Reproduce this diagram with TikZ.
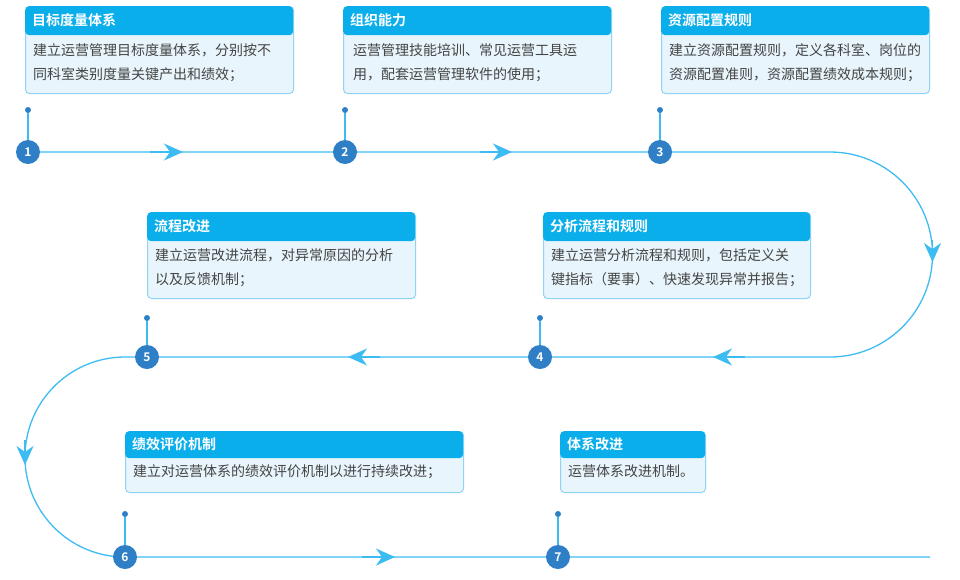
\documentclass[tikz,border=0pt]{standalone}
\usepackage{fontspec}
\setmainfont{Noto Sans CJK SC}[BoldFont={Noto Sans CJK SC Bold}]
\usetikzlibrary{arrows.meta,positioning}
\definecolor{headcyan}{HTML}{0AAEEB}
\definecolor{bodyfill}{HTML}{E8F5FC}
\definecolor{cardline}{HTML}{8FD3F5}
\definecolor{flowline}{HTML}{3DBCF2}
\definecolor{stepblue}{HTML}{2F7FC6}
\definecolor{bodytext}{HTML}{444444}

\begin{document}
\begin{tikzpicture}[x=1pt, y=-1pt, >=Stealth]
	% ------------------------------------------------------------------
	% STYLE DEFINITIONS
	% ------------------------------------------------------------------
	\tikzset{
		card/.style = {draw=cardline, fill=bodyfill, rounded corners=4pt, line width=1pt, inner sep=0pt, anchor=north west},
		head/.style = {fill=headcyan, text=white, font=\fontsize{14}{16}\selectfont\bfseries, rounded corners=4pt, inner xsep=7pt, inner ysep=0pt, minimum height=29pt, anchor=north west, text height=11pt, text width=#1-14pt, align=left},
		body/.style = {text=bodytext, font=\fontsize{14}{24}\selectfont, align=left, anchor=north west, inner sep=0pt},
		stepno/.style = {circle, fill=stepblue, text=white, font=\fontsize{12}{12}\selectfont\bfseries, minimum size=24pt, inner sep=0pt},
		dot/.style  = {circle, fill=stepblue, minimum size=6pt, inner sep=0pt},
		stem/.style = {draw=flowline, line width=1.3pt},
		flow/.style = {draw=flowline, line width=1.3pt},
		tip/.style  = {-{Stealth[length=19pt, width=17pt, inset=6pt]}, flowline, line width=1.3pt},
	}
	\useasboundingbox (0,0) rectangle (960,579);

	% ------------------------------------------------------------------
	% CARDS
	% ------------------------------------------------------------------
	% 1. 目标度量体系
	\node[card, minimum width=268pt, minimum height=87pt] (c1) at (25,6) {};
	\node[head=268pt] (h1) at (c1.north west) {目标度量体系};
	\node[body] (b1) at ([xshift=8pt, yshift=-8pt]h1.south west) {建立运营管理目标度量体系，分别按不\\同科室类别度量关键产出和绩效；};
	% 2. 组织能力
	\node[card, minimum width=268pt, minimum height=87pt] (c2) at (343,6) {};
	\node[head=268pt] (h2) at (c2.north west) {组织能力};
	\node[body] (b2) at ([xshift=10pt, yshift=-8pt]h2.south west) {运营管理技能培训、常见运营工具运\\用，配套运营管理软件的使用；};
	% 3. 资源配置规则
	\node[card, minimum width=268pt, minimum height=87pt] (c3) at (661,6) {};
	\node[head=268pt] (h3) at (c3.north west) {资源配置规则};
	\node[body] (b3) at ([xshift=8pt, yshift=-8pt]h3.south west) {建立资源配置规则，定义各科室、岗位的\\资源配置准则，资源配置绩效成本规则；};
	% 4. 分析流程和规则
	\node[card, minimum width=267pt, minimum height=86pt] (c4) at (543,212) {};
	\node[head=267pt] (h4) at (c4.north west) {分析流程和规则};
	\node[body] (b4) at ([xshift=8pt, yshift=-7pt]h4.south west) {建立运营分析流程和规则，包括定义关\\键指标（要事）、快速发现异常并报告；};
	% 5. 流程改进
	\node[card, minimum width=268pt, minimum height=86pt] (c5) at (147,212) {};
	\node[head=268pt] (h5) at (c5.north west) {流程改进};
	\node[body] (b5) at ([xshift=8pt, yshift=-7pt]h5.south west) {建立运营改进流程，对异常原因的分析\\以及反馈机制；};
	% 6. 绩效评价机制
	\node[card, minimum width=338pt, minimum height=61pt] (c6) at (125,431) {};
	\node[head=338pt, minimum height=27pt] (h6) at (c6.north west) {绩效评价机制};
	\node[body] (b6) at ([xshift=8pt, yshift=-6pt]h6.south west) {建立对运营体系的绩效评价机制以进行持续改进；};
	% 7. 体系改进
	\node[card, minimum width=145pt, minimum height=61pt] (c7) at (560,431) {};
	\node[head=145pt, minimum height=27pt] (h7) at (c7.north west) {体系改进};
	\node[body] (b7) at ([xshift=8pt, yshift=-6pt]h7.south west) {运营体系改进机制。};

	% ------------------------------------------------------------------
	% FLOW LINE & ARROWS
	% ------------------------------------------------------------------
	\coordinate (a1) at (183,152);
	\coordinate (a2) at (512,152);
	\coordinate (r1) at (830,152);
	\coordinate (r2) at (932.5,262);
	\coordinate (a4) at (713,357);
	\coordinate (a5) at (348,357);
	\coordinate (l1) at (125,357);
	\coordinate (l2) at (25,465);
	\coordinate (a6) at (395,557);
	\coordinate (e7) at (930,557);

	\path[flow] (28,152) -- (a1) -- (a2) -- (r1) arc[start angle=-90, end angle=90, radius=102.5] -- (l1) arc[start angle=-90, end angle=-270, radius=100] -- (e7);
	\draw[tip] (150,152) -- (a1);
	\draw[tip] (480,152) -- (a2);
	\draw[tip] (932.5,240) -- (r2);
	\draw[tip] (745,357) -- (a4);
	\draw[tip] (380,357) -- (a5);
	\draw[tip] (25,440) -- (l2);
	\draw[tip] (362,557) -- (a6);

	% ------------------------------------------------------------------
	% STEPS
	% ------------------------------------------------------------------
	\foreach \i/\x/\y/\t in {1/28/152/110, 2/345/152/110, 3/660/152/110, 4/540/357/318, 5/147/357/318, 6/125/557/514, 7/558/557/514}{
		\node[stepno] (n\i) at (\x,\y) {\i};
		\node[dot] (d\i) at (\x,\t) {};
		\draw[stem] (d\i) -- (n\i);
	}
\end{tikzpicture}
\end{document}
